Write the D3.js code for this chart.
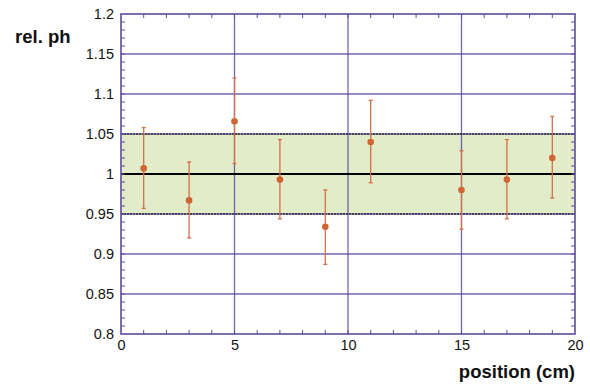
<!DOCTYPE html>
<html lang="en">
<head>
  <meta charset="UTF-8">
  <title>rel. ph vs position</title>
  <style>
    body { margin: 0; padding: 0; background: #fff; }
    svg { display: block; font-family: "Liberation Sans", Arial, sans-serif; }
    .tick text { font-size: 14.5px; fill: #111; }
    .grid { stroke: #5e4aa0; stroke-width: 1.3px; opacity: 0.85; }
    .minor { stroke: #5e4aa0; stroke-width: 1px; }
    .frame { fill: none; stroke: #5e4aa0; stroke-width: 1.6px; }
    .err { stroke: #d2704a; stroke-width: 1.3px; }
    .dot { fill: #cf6535; }
    .title { font-size: 18.5px; font-weight: bold; fill: #111; }
  </style>
</head>
<body>
  <div id="chart"></div>
  <script src="https://d3js.org/d3.v7.min.js"></script>
  <script>
    // measured points: position (cm), relative pulse height, error bar ends
    var positions = [1, 3, 5, 7, 9, 11, 15, 17, 19];
    var relPh     = [1.007, 0.967, 1.066, 0.993, 0.934, 1.040, 0.980, 0.993, 1.020];
    var errLow    = [0.957, 0.920, 1.013, 0.944, 0.887, 0.989, 0.931, 0.944, 0.970];
    var errHigh   = [1.058, 1.015, 1.120, 1.043, 0.980, 1.092, 1.029, 1.043, 1.072];

    var band = [0.95, 1.05];
    var xTicks = [0, 5, 10, 15, 20];
    var yTicks = [0.8, 0.85, 0.9, 0.95, 1, 1.05, 1.1, 1.15, 1.2];

    var width = 590, height = 387;
    var margin = { top: 14, right: 15, bottom: 53, left: 121 };
    var w = width - margin.left - margin.right;
    var h = height - margin.top - margin.bottom;

    var svg = d3.select("#chart").append("svg")
      .attr("width", width)
      .attr("height", height);

    var g = svg.append("g")
      .attr("transform", "translate(" + margin.left + "," + margin.top + ")");

    var x = d3.scaleLinear().domain([0, 20]).range([0, w]);
    var y = d3.scaleLinear().domain([0.8, 1.2]).range([h, 0]);

    // green tolerance band
    g.append("rect")
      .attr("x", 0)
      .attr("width", w)
      .attr("y", y(band[1]))
      .attr("height", y(band[0]) - y(band[1]))
      .attr("fill", "#e3ecc8");

    // grid lines
    g.selectAll(".hgrid")
      .data(yTicks.filter(function(d) { return d > 0.8 && d < 1.2 && d !== 1; }))
      .enter().append("line")
      .attr("class", "grid")
      .attr("x1", 0).attr("x2", w)
      .attr("y1", function(d) { return y(d); })
      .attr("y2", function(d) { return y(d); });

    g.selectAll(".vgrid")
      .data(xTicks.filter(function(d) { return d > 0 && d < 20; }))
      .enter().append("line")
      .attr("class", "grid")
      .attr("y1", 0).attr("y2", h)
      .attr("x1", function(d) { return x(d); })
      .attr("x2", function(d) { return x(d); });

    // dotted band edges
    g.selectAll(".bandEdge")
      .data(band)
      .enter().append("line")
      .attr("x1", 0).attr("x2", w)
      .attr("y1", function(d) { return y(d); })
      .attr("y2", function(d) { return y(d); })
      .attr("stroke", "#333")
      .attr("stroke-width", 1.6)
      .attr("stroke-dasharray", "2,1");

    // reference line at 1
    g.append("line")
      .attr("x1", 0).attr("x2", w)
      .attr("y1", y(1)).attr("y2", y(1))
      .attr("stroke", "#000")
      .attr("stroke-width", 2);

    // minor ticks inside the frame
    var xMinor = d3.range(1, 20);
    var yMinor = d3.range(81, 120).map(function(d) { return d / 100; });

    xMinor.forEach(function(d) {
      g.append("line").attr("class", "minor")
        .attr("x1", x(d)).attr("x2", x(d)).attr("y1", h).attr("y2", h - 4);
      g.append("line").attr("class", "minor")
        .attr("x1", x(d)).attr("x2", x(d)).attr("y1", 0).attr("y2", 4);
    });
    yMinor.forEach(function(d) {
      g.append("line").attr("class", "minor")
        .attr("x1", 0).attr("x2", 4).attr("y1", y(d)).attr("y2", y(d));
      g.append("line").attr("class", "minor")
        .attr("x1", w).attr("x2", w - 4).attr("y1", y(d)).attr("y2", y(d));
    });

    g.append("rect").attr("class", "frame")
      .attr("width", w).attr("height", h);

    // axes (labels only)
    var xAxis = g.append("g")
      .attr("transform", "translate(0," + h + ")")
      .call(d3.axisBottom(x).tickValues(xTicks).tickSize(0).tickPadding(6)
        .tickFormat(d3.format("d")));
    xAxis.select(".domain").remove();

    var yAxis = g.append("g")
      .call(d3.axisLeft(y).tickValues(yTicks).tickSize(0).tickPadding(7)
        .tickFormat(function(d) { return String(+d.toFixed(2)); }));
    yAxis.select(".domain").remove();

    // error bars and points
    var pts = positions.map(function(p, i) {
      return { x: p, v: relPh[i], lo: errLow[i], hi: errHigh[i] };
    });

    var pg = g.selectAll(".pt").data(pts).enter().append("g");

    pg.append("line").attr("class", "err")
      .attr("x1", function(d) { return x(d.x); })
      .attr("x2", function(d) { return x(d.x); })
      .attr("y1", function(d) { return y(d.lo); })
      .attr("y2", function(d) { return y(d.hi); });

    pg.selectAll(".cap")
      .data(function(d) { return [{ x: d.x, v: d.lo }, { x: d.x, v: d.hi }]; })
      .enter().append("line").attr("class", "err")
      .attr("x1", function(d) { return x(d.x) - 2; })
      .attr("x2", function(d) { return x(d.x) + 2; })
      .attr("y1", function(d) { return y(d.v); })
      .attr("y2", function(d) { return y(d.v); });

    pg.append("circle").attr("class", "dot")
      .attr("cx", function(d) { return x(d.x); })
      .attr("cy", function(d) { return y(d.v); })
      .attr("r", 3.3);

    // axis titles
    svg.append("text").attr("class", "title")
      .attr("x", 15).attr("y", 43)
      .text("rel. ph");

    svg.append("text").attr("class", "title")
      .attr("x", 575).attr("y", 378)
      .attr("text-anchor", "end")
      .text("position (cm)");
  </script>
</body>
</html>
